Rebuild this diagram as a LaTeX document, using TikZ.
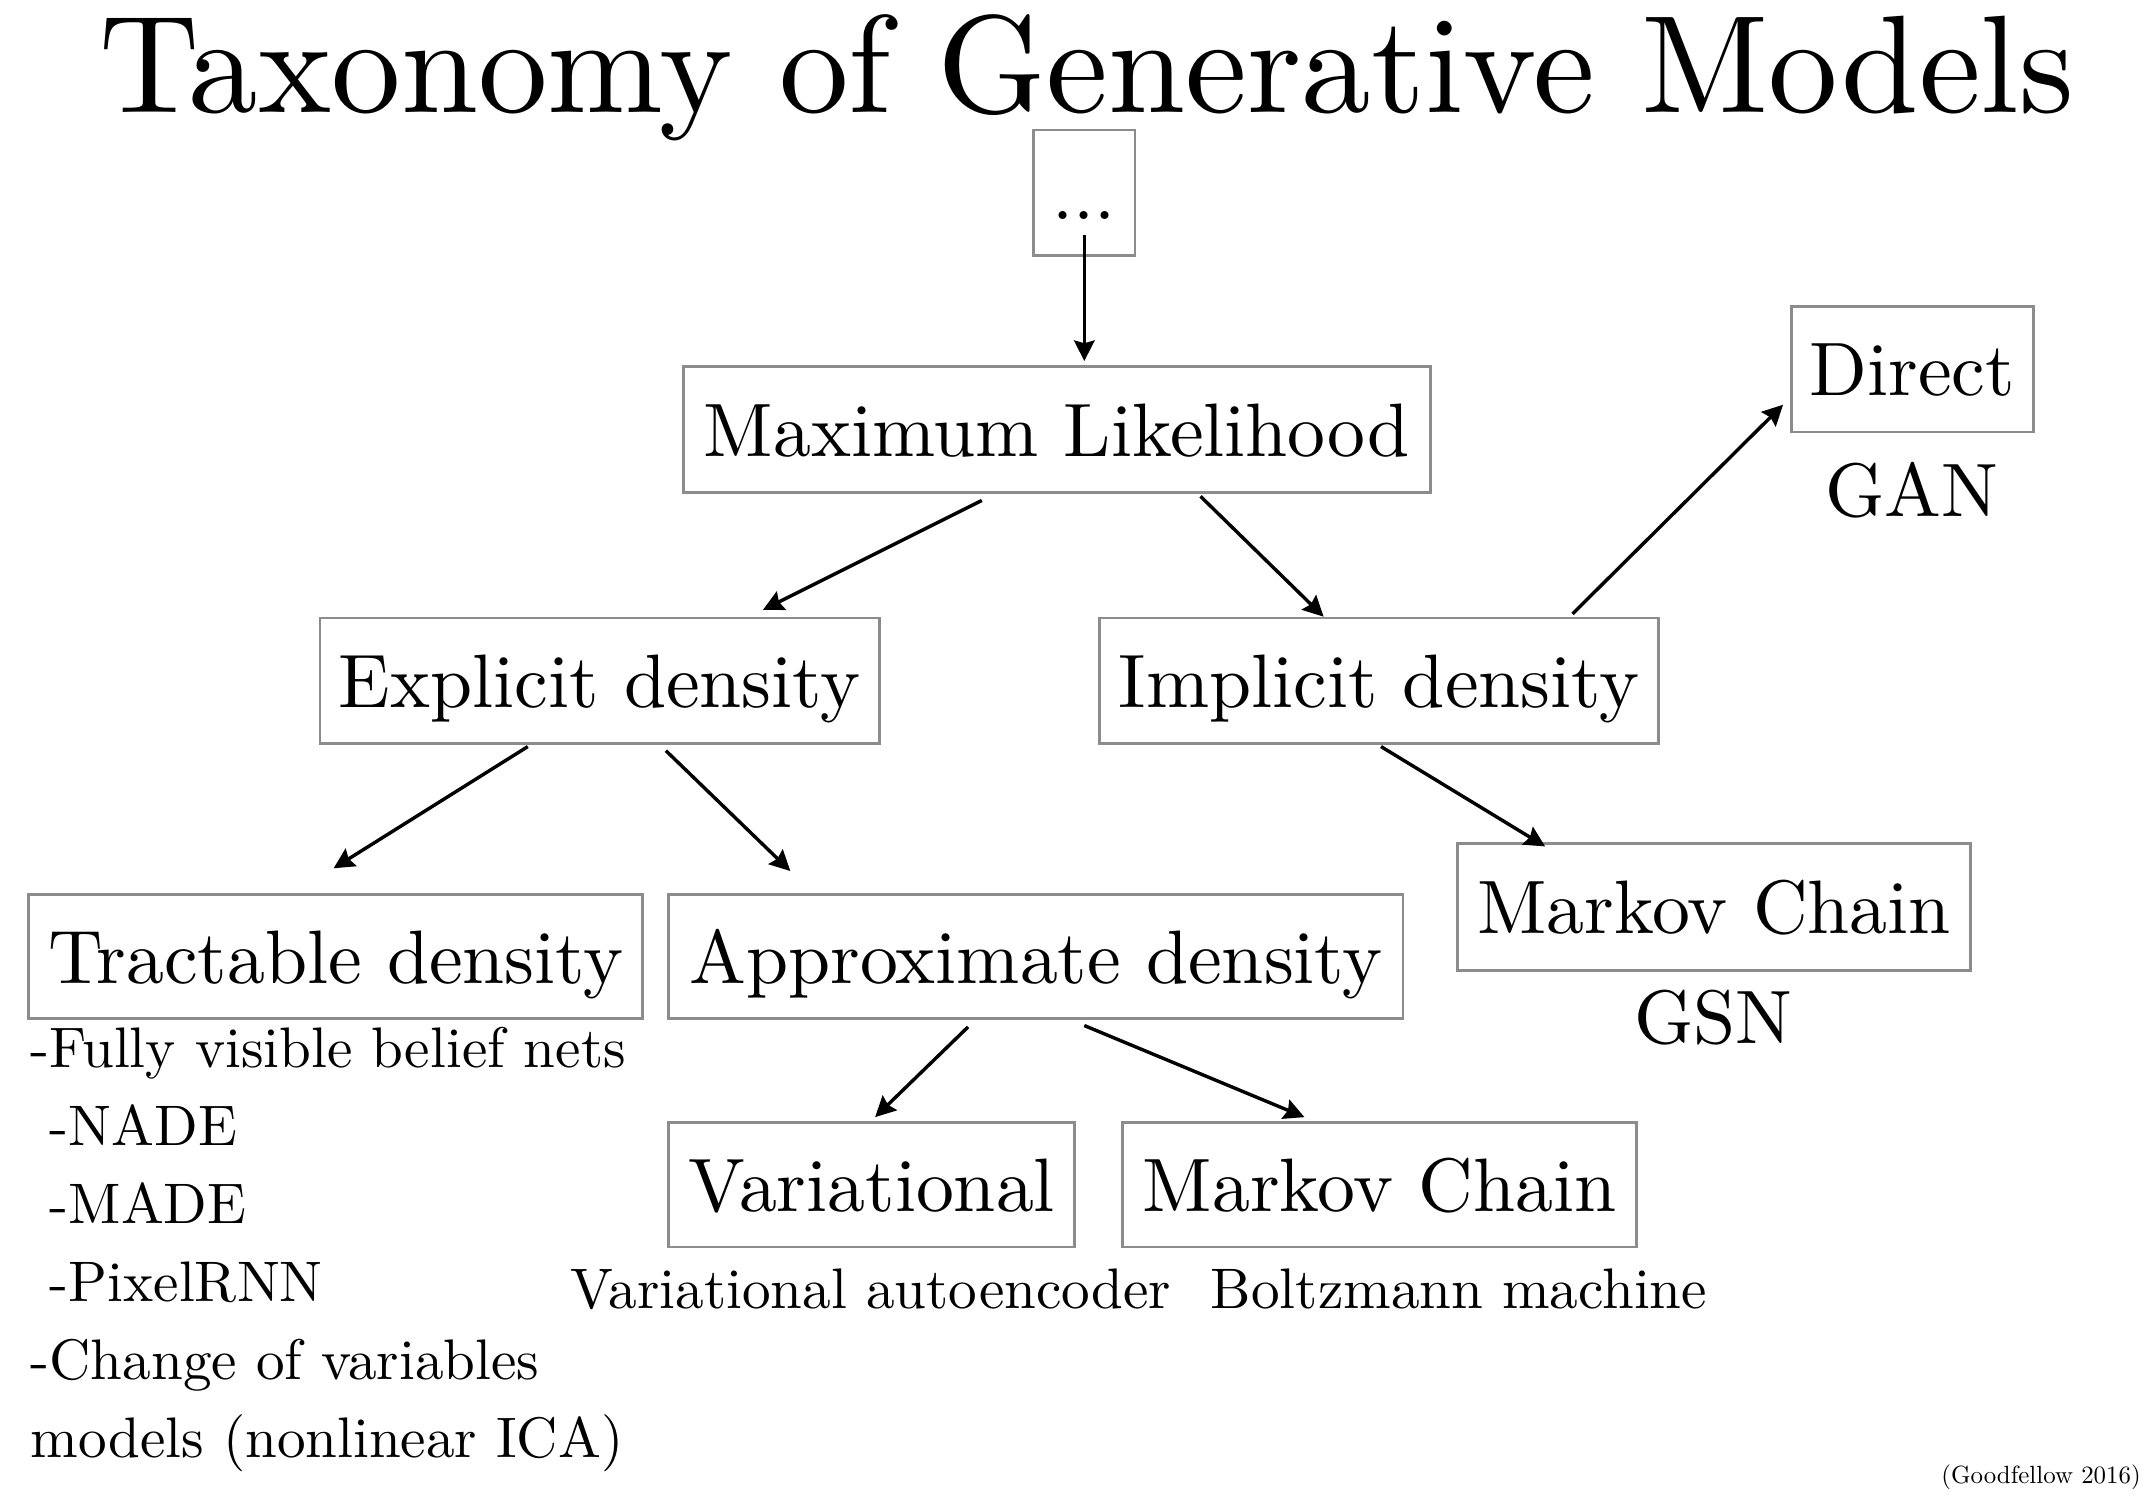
\documentclass[tikz,border=0pt]{standalone}
\usepackage{fontspec}
\setmainfont{lmroman10-regular.otf}
\usetikzlibrary{arrows.meta,calc}
\newcommand\boxfont{\fontsize{27.7}{32}\selectfont}
\newcommand\subfont{\fontsize{20.9}{26}\selectfont}
\tikzset{
  box/.style={draw=black!45, line width=1pt, inner sep=0pt, font=\boxfont,
    text height=26pt, text depth=6.5pt},
  lbl/.style={anchor=base, inner sep=0pt, font=\boxfont},
  sub/.style={anchor=base, inner sep=0pt, font=\subfont},
  lst/.style={anchor=base west, inner sep=0pt, font=\subfont},
  arr/.style={-{Stealth[length=7.5pt,width=7.5pt,inset=1pt]}, line width=1.25pt},
}
\begin{document}
\begin{tikzpicture}[x=0.5pt,y=-0.5pt]
\useasboundingbox[fill=white] (0,0) rectangle (1568,1094);
\node[anchor=base, inner sep=0pt, font=\fontsize{50.8}{60}\selectfont] (title) at (795,82) {Taxonomy of Generative Models};
\node[box, minimum width=37pt, minimum height=46pt] (dots) at (793,141) {...};
\node[box, minimum width=273pt, minimum height=46pt] (ml) at (773,314) {Maximum Likelihood};
\node[box, minimum width=88.5pt, minimum height=46pt] (direct) at (1398.5,270) {Direct};
\node[box, minimum width=204.5pt, minimum height=46pt] (expl) at (438.5,498) {Explicit density};
\node[box, minimum width=204.5pt, minimum height=46pt] (impl) at (1008.5,498) {Implicit density};
\node[box, minimum width=224.5pt, minimum height=45.5pt] (tract) at (245.5,699.5) {Tractable density};
\node[box, minimum width=268.5pt, minimum height=45.5pt] (approx) at (757.5,699.5) {Approximate density};
\node[box, minimum width=187.5pt, minimum height=46.5pt] (mcone) at (1253.5,663.5) {Markov Chain};
\node[box, minimum width=148.5pt, minimum height=45.5pt] (var) at (637.5,866.5) {Variational};
\node[box, minimum width=188pt, minimum height=45.5pt] (mctwo) at (1009,866.5) {Markov Chain};
\node[lbl] (gan) at (1398,378) {GAN};
\node[lbl] (gsn) at (1253,763) {GSN};
\node[sub] (vae) at (637,957) {Variational autoencoder};
\node[sub] (boltz) at (1067,957) {Boltzmann machine};
\node[lst] (l1) at (22,781) {-Fully visible belief nets};
\node[lst] (l2) at (22,838) {\ -NADE};
\node[lst] (l3) at (22,895) {\ -MADE};
\node[lst] (l4) at (22,952) {\ -PixelRNN};
\node[lst] (l5) at (22,1009) {-Change of variables};
\node[lst] (l6) at (22,1066) {models (nonlinear ICA)};
\node[anchor=base east, inner sep=0pt, font=\fontsize{9.1}{11}\selectfont] (cite) at (1566,1085) {(Goodfellow 2016)};
\draw[arr] ($(dots.center)+(0,31)$) -- ($(ml.north)+(20,-3)$);
\draw[arr] ($(ml.south)+(-55,5)$) -- ($(expl.north)+(119.5,-5)$);
\draw[arr] ($(ml.south)+(105,2)$) -- ($(impl.north)+(-40.5,0)$);
\draw[arr] ($(impl.north)+(141.5,-2)$) -- ($(direct.west)+(-5,26)$);
\draw[arr] ($(expl.south)+(-52.5,1)$) -- ($(tract.north)+(-1.5,-18)$);
\draw[arr] ($(expl.south)+(48.5,4)$) -- ($(approx.north)+(-179.5,-16)$);
\draw[arr] ($(impl.south)+(1.5,1)$) -- ($(mcone.north)+(-123.5,3)$);
\draw[arr] ($(approx.south)+(-49.5,5)$) -- ($(var.north)+(2.5,-3)$);
\draw[arr] ($(approx.south)+(35.5,4)$) -- ($(mctwo.north)+(-55,-3)$);
\end{tikzpicture}
\end{document}
